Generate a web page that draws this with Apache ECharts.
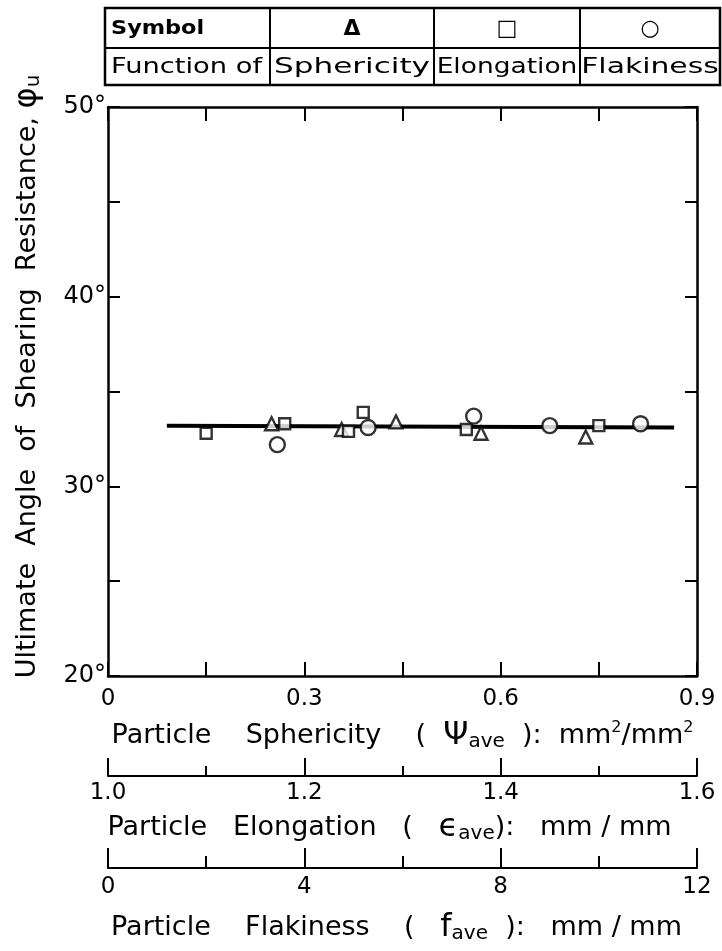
<!DOCTYPE html>
<html><head><meta charset="utf-8">
<script src="https://cdn.jsdelivr.net/npm/echarts@6/dist/echarts.min.js"></script>
<style>html,body{margin:0;padding:0;background:#fff}#c{width:722px;height:951px}</style>
</head><body><div id="c"></div>
<script>
// ---- data ----
const yTicks = [20, 30, 40, 50];
const yTickLabels = ['20°', '30°', '40°', '50°'];
const sphTicks = [0, 0.3, 0.6, 0.9];
const sphTickLabels = ['0', '0.3', '0.6', '0.9'];
const elongTicks = [1.0, 1.2, 1.4, 1.6];
const elongTickLabels = ['1.0', '1.2', '1.4', '1.6'];
const flakTicks = [0, 4, 8, 12];
const flakTickLabels = ['0', '4', '8', '12'];

const fitLineX = [0.09, 0.865];          // on sphericity scale
const fitLineY = [33.2, 33.1];
const sphericityX = [0.25, 0.357, 0.44, 0.57, 0.73];
const sphericityY = [33.3, 33.0, 33.4, 32.8, 32.6];
const elongationX = [1.10, 1.18, 1.245, 1.26, 1.365, 1.50];
const elongationY = [32.8, 33.3, 32.9, 33.9, 33.0, 33.2];
const flakinessX = [3.45, 5.3, 7.45, 9.0, 10.85];
const flakinessY = [32.2, 33.1, 33.7, 33.2, 33.3];

const tableRow1 = ['Symbol', 'Δ', '□', '○'];
const tableRow2 = ['Function of', 'Sphericity', 'Elongation', 'Flakiness'];

// ---- helpers ----
const F = 'DejaVu Sans';
const K = '#000';
const zip = (a, b) => a.map((v, i) => [v, b[i]]);
const lab = (ticks, labels) => v => {
  const i = ticks.findIndex(t => Math.abs(t - v) < 1e-6);
  return i >= 0 ? labels[i] : '';
};
const rich = {
  t: {fontSize: 27, fontFamily: F, color: K, verticalAlign: 'middle'},
  s: {fontSize: 20, fontFamily: F, color: K, verticalAlign: 'middle', padding: [13, 0, 0, 0]},
  p: {fontSize: 16, fontFamily: F, color: K, verticalAlign: 'middle', padding: [0, 0, 15, 0]},
  g: {fontSize: 32, fontFamily: F, color: K, verticalAlign: 'middle'}
};
function xAx(o) {
  return Object.assign({
    type: 'value', gridIndex: 0, position: 'bottom',
    axisLine: {show: true, onZero: false, lineStyle: {color: K, width: 2.5}},
    axisTick: {show: true, inside: true, length: 14, lineStyle: {color: K, width: 2}},
    minorTick: {show: true, splitNumber: 2, length: 14, lineStyle: {color: K, width: 2}},
    splitLine: {show: false}, minorSplitLine: {show: false},
    nameLocation: 'middle',
    nameTextStyle: {rich: rich}
  }, o);
}

const chart = echarts.init(document.getElementById('c'), null, {renderer: 'canvas'});

const graphics = [];
const tL = 105, tR = 720, tT = 8, tM = 48, tB = 85;
const cols = [105, 270, 434, 580, 720];
const row2Scale = [1.3, 1.48, 1.26, 1.42];
graphics.push({type: 'rect', shape: {x: tL, y: tT, width: tR - tL, height: tB - tT},
  style: {fill: 'none', stroke: K, lineWidth: 2.5}});
graphics.push({type: 'line', shape: {x1: tL, y1: tM, x2: tR, y2: tM}, style: {stroke: K, lineWidth: 2}});
for (let i = 1; i < 4; i++) {
  graphics.push({type: 'line', shape: {x1: cols[i], y1: tT, x2: cols[i], y2: tB}, style: {stroke: K, lineWidth: 2}});
}
tableRow1.forEach((s, i) => {
  const left = i === 0;
  graphics.push({type: 'text', x: left ? cols[0] + 6 : (cols[i] + cols[i + 1]) / 2, y: (tT + tM) / 2 + 1,
    scaleX: left ? 1.12 : 1,
    style: {text: s, fontFamily: F, fontSize: left ? 20 : 22, fontWeight: 'bold',
      fill: K, align: left ? 'left' : 'center', verticalAlign: 'middle'}});
});
tableRow2.forEach((s, i) => {
  const left = i === 0;
  graphics.push({type: 'text', x: left ? cols[0] + 6 : (cols[i] + cols[i + 1]) / 2, y: (tM + tB) / 2 + 1,
    scaleX: row2Scale[i],
    style: {text: s, fontFamily: F, fontSize: 21, fill: K,
      align: left ? 'left' : 'center', verticalAlign: 'middle'}});
});

chart.setOption({
  animation: false,
  backgroundColor: '#fff',
  grid: [{left: 108, right: 25, top: 107, bottom: 275, containLabel: false}],
  graphic: graphics,
  xAxis: [
    xAx({min: 0, max: 0.9, interval: 0.3,
      axisLabel: {color: K, fontSize: 23, fontFamily: F, margin: 12, formatter: lab(sphTicks, sphTickLabels)},
      name: '{t|Particle    Sphericity    (  }{g|Ψ}{s|ave}{t|  ):  mm}{p|2}{t|/mm}{p|2}', nameGap: 43}),
    xAx({min: 1.0, max: 1.6, interval: 0.2, offset: 100,
      axisLine: {show: true, onZero: false, lineStyle: {color: K, width: 2}},
      axisTick: {show: true, inside: true, length: 18, lineStyle: {color: K, width: 2}},
      minorTick: {show: true, splitNumber: 2, length: 10, lineStyle: {color: K, width: 2}},
      axisLabel: {color: K, fontSize: 23, fontFamily: F, margin: 6, formatter: lab(elongTicks, elongTickLabels)},
      name: '{t|Particle   Elongation   (   }{g|ϵ}{s|ave}{t|):   mm / mm}', nameGap: 35,
      nameTextStyle: {rich: rich, padding: [0, 26, 0, 0]}}),
    xAx({min: 0, max: 12, interval: 4, offset: 192,
      axisLine: {show: true, onZero: false, lineStyle: {color: K, width: 2}},
      axisTick: {show: true, inside: true, length: 20, lineStyle: {color: K, width: 2}},
      minorTick: {show: true, splitNumber: 2, length: 12, lineStyle: {color: K, width: 2}},
      axisLabel: {color: K, fontSize: 23, fontFamily: F, margin: 8, formatter: lab(flakTicks, flakTickLabels)},
      name: '{t|Particle    Flakiness    (   }{g|f}{s|ave}{t|  ):   mm / mm}', nameGap: 43,
      nameTextStyle: {rich: rich, padding: [0, 12, 0, 0]}}),
    xAx({min: 0, max: 0.9, interval: 0.3, position: 'top', axisLabel: {show: false}})
  ],
  yAxis: [
    {type: 'value', min: 20, max: 50, interval: 10, position: 'left',
      axisLine: {show: true, onZero: false, lineStyle: {color: K, width: 2.5}},
      axisTick: {show: true, inside: true, length: 12, lineStyle: {color: K, width: 2}},
      minorTick: {show: true, splitNumber: 2, length: 12, lineStyle: {color: K, width: 2}},
      splitLine: {show: false}, minorSplitLine: {show: false},
      axisLabel: {color: K, fontSize: 24, fontFamily: F, margin: 2, formatter: lab(yTicks, yTickLabels)},
      name: '{t|Ultimate  Angle  of  Shearing  Resistance, }{g|φ}{s|u}',
      nameLocation: 'middle', nameGap: 64, nameRotate: 90,
      nameTextStyle: {rich: rich, padding: [0, 0, 0, 30]}},
    {type: 'value', min: 20, max: 50, interval: 10, position: 'right',
      axisLine: {show: true, onZero: false, lineStyle: {color: K, width: 2.5}},
      axisTick: {show: true, inside: true, length: 12, lineStyle: {color: K, width: 2}},
      minorTick: {show: true, splitNumber: 2, length: 12, lineStyle: {color: K, width: 2}},
      splitLine: {show: false}, axisLabel: {show: false}}
  ],
  series: [
    {type: 'line', xAxisIndex: 0, yAxisIndex: 0, data: zip(fitLineX, fitLineY), symbol: 'none',
      lineStyle: {color: K, width: 4}, z: 2},
    {type: 'scatter', name: 'Sphericity', xAxisIndex: 0, yAxisIndex: 0, data: zip(sphericityX, sphericityY),
      symbol: 'triangle', symbolSize: 13, itemStyle: {color: '#fff', borderColor: K, borderWidth: 2.4}, z: 3},
    {type: 'scatter', name: 'Elongation', xAxisIndex: 1, yAxisIndex: 0, data: zip(elongationX, elongationY),
      symbol: 'rect', symbolSize: 11, itemStyle: {color: '#fff', borderColor: K, borderWidth: 2.4}, z: 3},
    {type: 'scatter', name: 'Flakiness', xAxisIndex: 2, yAxisIndex: 0, data: zip(flakinessX, flakinessY),
      symbol: 'circle', symbolSize: 15, itemStyle: {color: '#fff', borderColor: K, borderWidth: 2.4}, z: 3}
  ]
});
</script>
</body></html>
